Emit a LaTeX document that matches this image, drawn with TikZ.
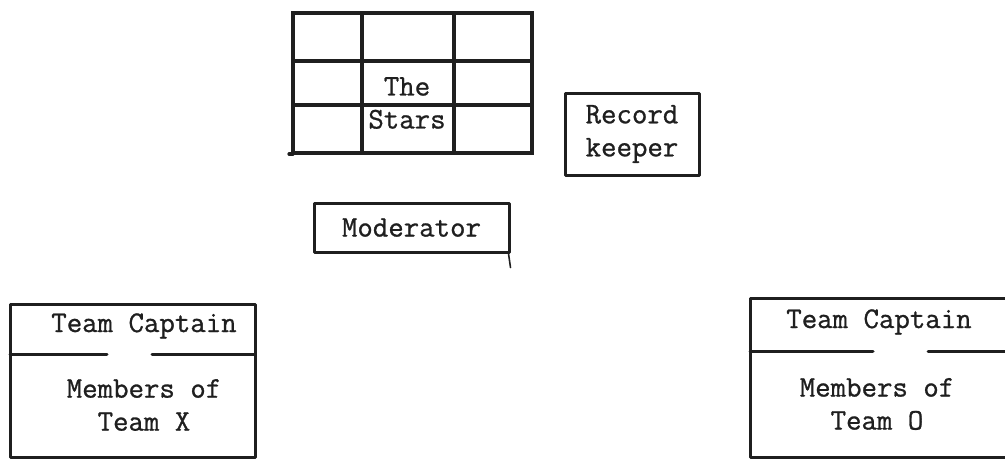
\documentclass[tikz,border=0pt]{standalone}
\usepackage{fontspec}
\newfontfamily\twfont{Latin Modern Mono}[FakeBold=0.9]
\begin{document}
\begin{tikzpicture}[x=1pt,y=-1pt,
  ink/.style={line width=3pt, draw=black!88, line cap=round, line join=round},
  gridline/.style={line width=3.2pt, draw=black!88, line cap=round},
  lbl/.style={font=\twfont\fontsize{30}{33}\selectfont, align=center, inner sep=0pt, text=black!88},
  boxnode/.style={lbl, ink, draw, inner sep=0pt}
]
\useasboundingbox (0,0) rectangle (1005,459);
% The Stars grid
\draw[gridline] (293,13) rectangle (532,153);
\draw[gridline] (362,13) -- (362,153);
\draw[gridline] (454,13) -- (454,153);
\draw[gridline] (293,61) -- (532,61);
\draw[gridline] (293,105) -- (532,105);
\draw[gridline] (289,154) -- (293,154);
\node[lbl] (stars) at (407,103) {The\\Stars};
% Record keeper
\node[boxnode, minimum width=134pt, minimum height=82pt] (rec) at (632,134) {Record\\keeper};
% Moderator
\node[boxnode, minimum width=195pt, minimum height=49pt] (mod) at (411.5,227.5) {Moderator};
\coordinate (modtail) at ([yshift=-14pt]mod.south east);
\draw[ink, line width=1.6pt] ([xshift=-2pt]mod.south east) -- (modtail);
% Team X
\draw[ink] (10,304) rectangle (255,457);
\coordinate (xg1) at (107,354);
\coordinate (xg2) at (152,354);
\draw[ink] (10,354) -- (xg1);
\draw[ink] (xg2) -- (255,354);
\node[lbl] (xcap) at (144,326) {Team Captain};
\node[lbl] (xmem) at (144,405) {Members of\\Team X};
% Team O
\draw[ink] (1008,298) -- (750,298) -- (750,457) -- (1008,457);
\coordinate (og1) at (873,351);
\coordinate (og2) at (928,351);
\draw[ink] (750,351) -- (og1);
\draw[ink] (og2) -- (1008,351);
\node[lbl] (ocap) at (879,322) {Team Captain};
\node[lbl] (omem) at (877,404) {Members of\\Team O};
\end{tikzpicture}
\end{document}
